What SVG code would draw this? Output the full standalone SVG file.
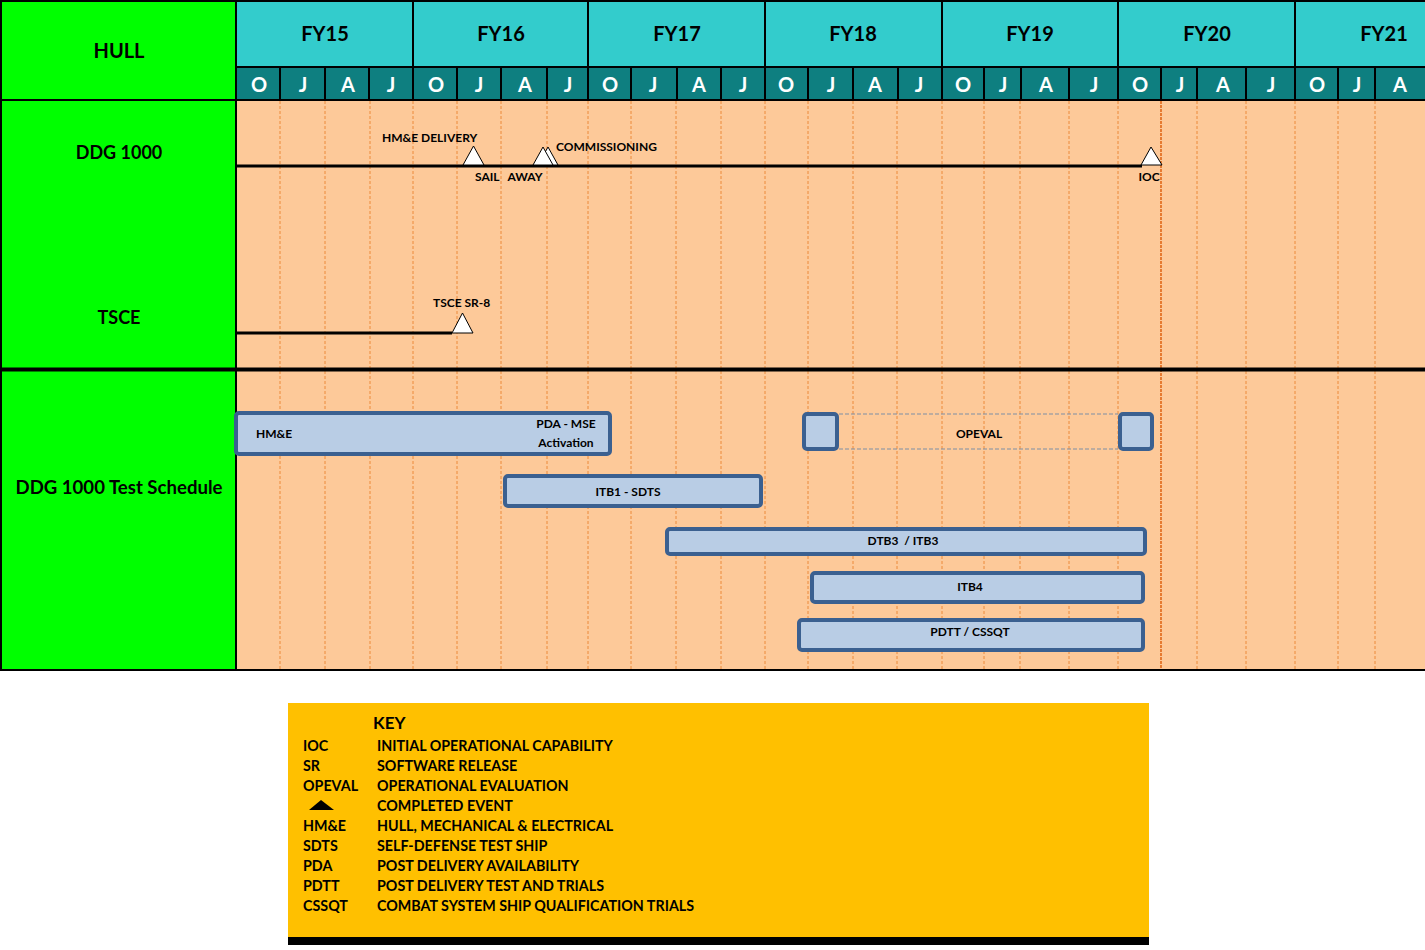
<svg xmlns="http://www.w3.org/2000/svg" width="1425" height="950" viewBox="0 0 1425 950">
<defs>
<style>
text{font-family:Lato,"Open Sans","Liberation Sans",sans-serif;font-weight:bold;}
.lbl{font-size:18px;fill:#000;text-anchor:middle;}
.fy{font-size:20px;fill:#000;text-anchor:middle;}
.mo{font-size:20px;fill:#fff;text-anchor:middle;}
.ms{font-size:12px;fill:#000;}
.bar{fill:#B9CDE5;stroke:#3B6090;stroke-width:4;}
.bt{font-size:12px;fill:#000;text-anchor:middle;}
.grid{stroke:#EC8A3A;stroke-width:1;stroke-dasharray:3,2;}
.tri{fill:#fff;stroke:#000;stroke-width:1;}
.key{font-size:14.3px;fill:#000;}
</style>
</defs>
<rect x="0" y="0" width="1425" height="950" fill="#fff"/>
<g id="header">
<rect x="237" y="2" width="1188" height="64" fill="#33CCCC"/>
<rect x="237" y="68" width="1188" height="31" fill="#0E7F80"/>
<g stroke="#000" stroke-width="2">
<line x1="413" y1="0" x2="413" y2="100"/><line x1="588" y1="0" x2="588" y2="100"/>
<line x1="765" y1="0" x2="765" y2="100"/><line x1="942" y1="0" x2="942" y2="100"/>
<line x1="1118" y1="0" x2="1118" y2="100"/><line x1="1295" y1="0" x2="1295" y2="100"/>
<line x1="237" y1="67" x2="1425" y2="67"/>
<line x1="280" y1="67" x2="280" y2="100"/><line x1="325" y1="67" x2="325" y2="100"/><line x1="369" y1="67" x2="369" y2="100"/>
<line x1="457" y1="67" x2="457" y2="100"/><line x1="501" y1="67" x2="501" y2="100"/><line x1="547" y1="67" x2="547" y2="100"/>
<line x1="631" y1="67" x2="631" y2="100"/><line x1="677" y1="67" x2="677" y2="100"/><line x1="721" y1="67" x2="721" y2="100"/>
<line x1="808" y1="67" x2="808" y2="100"/><line x1="853" y1="67" x2="853" y2="100"/><line x1="898" y1="67" x2="898" y2="100"/>
<line x1="984" y1="67" x2="984" y2="100"/><line x1="1021" y1="67" x2="1021" y2="100"/><line x1="1069" y1="67" x2="1069" y2="100"/>
<line x1="1161" y1="67" x2="1161" y2="100"/><line x1="1197" y1="67" x2="1197" y2="100"/><line x1="1246" y1="67" x2="1246" y2="100"/>
<line x1="1338" y1="67" x2="1338" y2="100"/><line x1="1375" y1="67" x2="1375" y2="100"/>
</g>
<text class="fy" x="325" y="41">FY15</text>
<text class="fy" x="501" y="41">FY16</text>
<text class="fy" x="677" y="41">FY17</text>
<text class="fy" x="853" y="41">FY18</text>
<text class="fy" x="1030" y="41">FY19</text>
<text class="fy" x="1207" y="41">FY20</text>
<text class="fy" x="1384" y="41">FY21</text>
<g class="mo">
<text x="259" y="92">O</text><text x="303" y="92">J</text><text x="348" y="92">A</text><text x="391" y="92">J</text>
<text x="436" y="92">O</text><text x="479" y="92">J</text><text x="525" y="92">A</text><text x="568" y="92">J</text>
<text x="610" y="92">O</text><text x="653" y="92">J</text><text x="699" y="92">A</text><text x="743" y="92">J</text>
<text x="786" y="92">O</text><text x="831" y="92">J</text><text x="875" y="92">A</text><text x="919" y="92">J</text>
<text x="963" y="92">O</text><text x="1003" y="92">J</text><text x="1046" y="92">A</text><text x="1094" y="92">J</text>
<text x="1140" y="92">O</text><text x="1180" y="92">J</text><text x="1223" y="92">A</text><text x="1271" y="92">J</text>
<text x="1317" y="92">O</text><text x="1357" y="92">J</text><text x="1400" y="92">A</text>
</g>
</g>
<g id="body">
<rect x="237" y="101" width="1188" height="568" fill="#FDC999"/>
<g class="grid">
<line x1="280" y1="101" x2="280" y2="669"/><line x1="325" y1="101" x2="325" y2="669"/><line x1="370" y1="101" x2="370" y2="669"/>
<line x1="413" y1="101" x2="413" y2="669"/><line x1="457" y1="101" x2="457" y2="669"/><line x1="501" y1="101" x2="501" y2="669"/>
<line x1="547" y1="101" x2="547" y2="669"/><line x1="588" y1="101" x2="588" y2="669"/><line x1="631" y1="101" x2="631" y2="669"/>
<line x1="676" y1="101" x2="676" y2="669"/><line x1="721" y1="101" x2="721" y2="669"/><line x1="765" y1="101" x2="765" y2="669"/>
<line x1="808" y1="101" x2="808" y2="669"/><line x1="853" y1="101" x2="853" y2="669"/><line x1="897" y1="101" x2="897" y2="669"/>
<line x1="942" y1="101" x2="942" y2="669"/><line x1="984" y1="101" x2="984" y2="669"/><line x1="1020" y1="101" x2="1020" y2="669"/>
<line x1="1069" y1="101" x2="1069" y2="669"/><line x1="1118" y1="101" x2="1118" y2="669"/>
<line x1="1197" y1="101" x2="1197" y2="669"/><line x1="1246" y1="101" x2="1246" y2="669"/><line x1="1295" y1="101" x2="1295" y2="669"/>
<line x1="1338" y1="101" x2="1338" y2="669"/><line x1="1375" y1="101" x2="1375" y2="669"/>
</g>
<line x1="1161" y1="101" x2="1161" y2="669" stroke="#E06818" stroke-width="1.6" stroke-dasharray="3,1"/>
</g>
<g id="hull-column">
<rect x="2" y="2" width="233" height="667" fill="#00FF00"/>
<text class="lbl" x="119" y="58" style="font-size:20px">HULL</text>
</g>
<g id="row-ddg1000"><text class="lbl" x="119" y="159">DDG 1000</text></g>
<g id="row-tsce"><text class="lbl" x="119" y="324">TSCE</text></g>
<g id="row-test"><text class="lbl" x="119" y="494" style="font-size:18.6px">DDG 1000 Test Schedule</text></g>
<g id="frame" stroke="#000" fill="none">
<line x1="0" y1="1" x2="1425" y2="1" stroke-width="2"/>
<line x1="1" y1="0" x2="1" y2="671" stroke-width="2"/>
<line x1="236" y1="0" x2="236" y2="671" stroke-width="2"/>
<line x1="0" y1="100" x2="1425" y2="100" stroke-width="2"/>
<line x1="0" y1="369.5" x2="1425" y2="369.5" stroke-width="4"/>
<line x1="0" y1="670" x2="1425" y2="670" stroke-width="2"/>
</g>
<g id="connectors" stroke="#000" stroke-width="3">
<line x1="237" y1="166" x2="1142" y2="166"/>
<line x1="237" y1="333" x2="452" y2="333"/>
</g>
<g id="ms-hme-delivery">
<polygon class="tri" points="463,165 473.5,146 484,165"/>
<text class="ms" x="382" y="142">HM&amp;E DELIVERY</text>
</g>
<g id="ms-sail-away"><text class="ms" x="475" y="181" style="white-space:pre">SAIL   AWAY</text></g>
<g id="ms-commissioning">
<polygon class="tri" points="538,165 548,147 558,165"/>
<polygon class="tri" points="533,165 543,147 553,165"/>
<text class="ms" x="556" y="151">COMMISSIONING</text>
</g>
<g id="ms-ioc">
<polygon class="tri" points="1141,165 1151,147 1162,165"/>
<text class="ms" x="1149" y="181" text-anchor="middle">IOC</text>
</g>
<g id="ms-tsce-sr8">
<polygon class="tri" points="452,333 462.5,313 473,333"/>
<text class="ms" x="433" y="307">TSCE SR-8</text>
</g>
<g id="bar-hme">
<rect class="bar" x="236" y="413" width="374" height="41" rx="3"/>
<text class="bt" x="274" y="438">HM&amp;E</text>
<text class="bt" x="566" y="428">PDA - MSE</text>
<text class="bt" x="566" y="447">Activation</text>
</g>
<g id="bar-itb1">
<rect class="bar" x="505" y="476" width="256" height="30" rx="3"/>
<text class="bt" x="628" y="496">ITB1 - SDTS</text>
</g>
<g id="bar-opeval">
<line x1="839" y1="414" x2="1118" y2="414" stroke="#7F8FA6" stroke-width="1.2" stroke-dasharray="4,2"/>
<line x1="839" y1="449" x2="1118" y2="449" stroke="#7F8FA6" stroke-width="1.2" stroke-dasharray="4,2"/>
<rect class="bar" x="804" y="414" width="33" height="35" rx="3"/>
<rect class="bar" x="1120" y="414" width="32" height="35" rx="3"/>
<text class="bt" x="979" y="438">OPEVAL</text>
</g>
<g id="bar-dtb3">
<rect class="bar" x="667" y="529" width="478" height="25" rx="3"/>
<text class="bt" x="903" y="545" style="white-space:pre">DTB3  / ITB3</text>
</g>
<g id="bar-itb4">
<rect class="bar" x="812" y="573" width="331" height="29" rx="3"/>
<text class="bt" x="970" y="591">ITB4</text>
</g>
<g id="bar-pdtt">
<rect class="bar" x="799" y="620" width="344" height="30" rx="3"/>
<text class="bt" x="970" y="636">PDTT / CSSQT</text>
</g>
<g id="key">
<rect x="288" y="703" width="861" height="234" fill="#FFC000"/>
<rect x="288" y="937" width="861" height="8" fill="#000"/>
<text x="373" y="729" style="font-size:17px">KEY</text>
<g class="key">
<text x="303" y="751">IOC</text><text x="377" y="751">INITIAL OPERATIONAL CAPABILITY</text>
<text x="303" y="771">SR</text><text x="377" y="771">SOFTWARE RELEASE</text>
<text x="303" y="791">OPEVAL</text><text x="377" y="791">OPERATIONAL EVALUATION</text>
<text x="377" y="811">COMPLETED EVENT</text>
<text x="303" y="831">HM&amp;E</text><text x="377" y="831">HULL, MECHANICAL &amp; ELECTRICAL</text>
<text x="303" y="851">SDTS</text><text x="377" y="851">SELF-DEFENSE TEST SHIP</text>
<text x="303" y="871">PDA</text><text x="377" y="871">POST DELIVERY AVAILABILITY</text>
<text x="303" y="891">PDTT</text><text x="377" y="891">POST DELIVERY TEST AND TRIALS</text>
<text x="303" y="911">CSSQT</text><text x="377" y="911">COMBAT SYSTEM SHIP QUALIFICATION TRIALS</text>
</g>
<polygon points="309,810 321,800 334,810" fill="#000"/>
</g>
</svg>
